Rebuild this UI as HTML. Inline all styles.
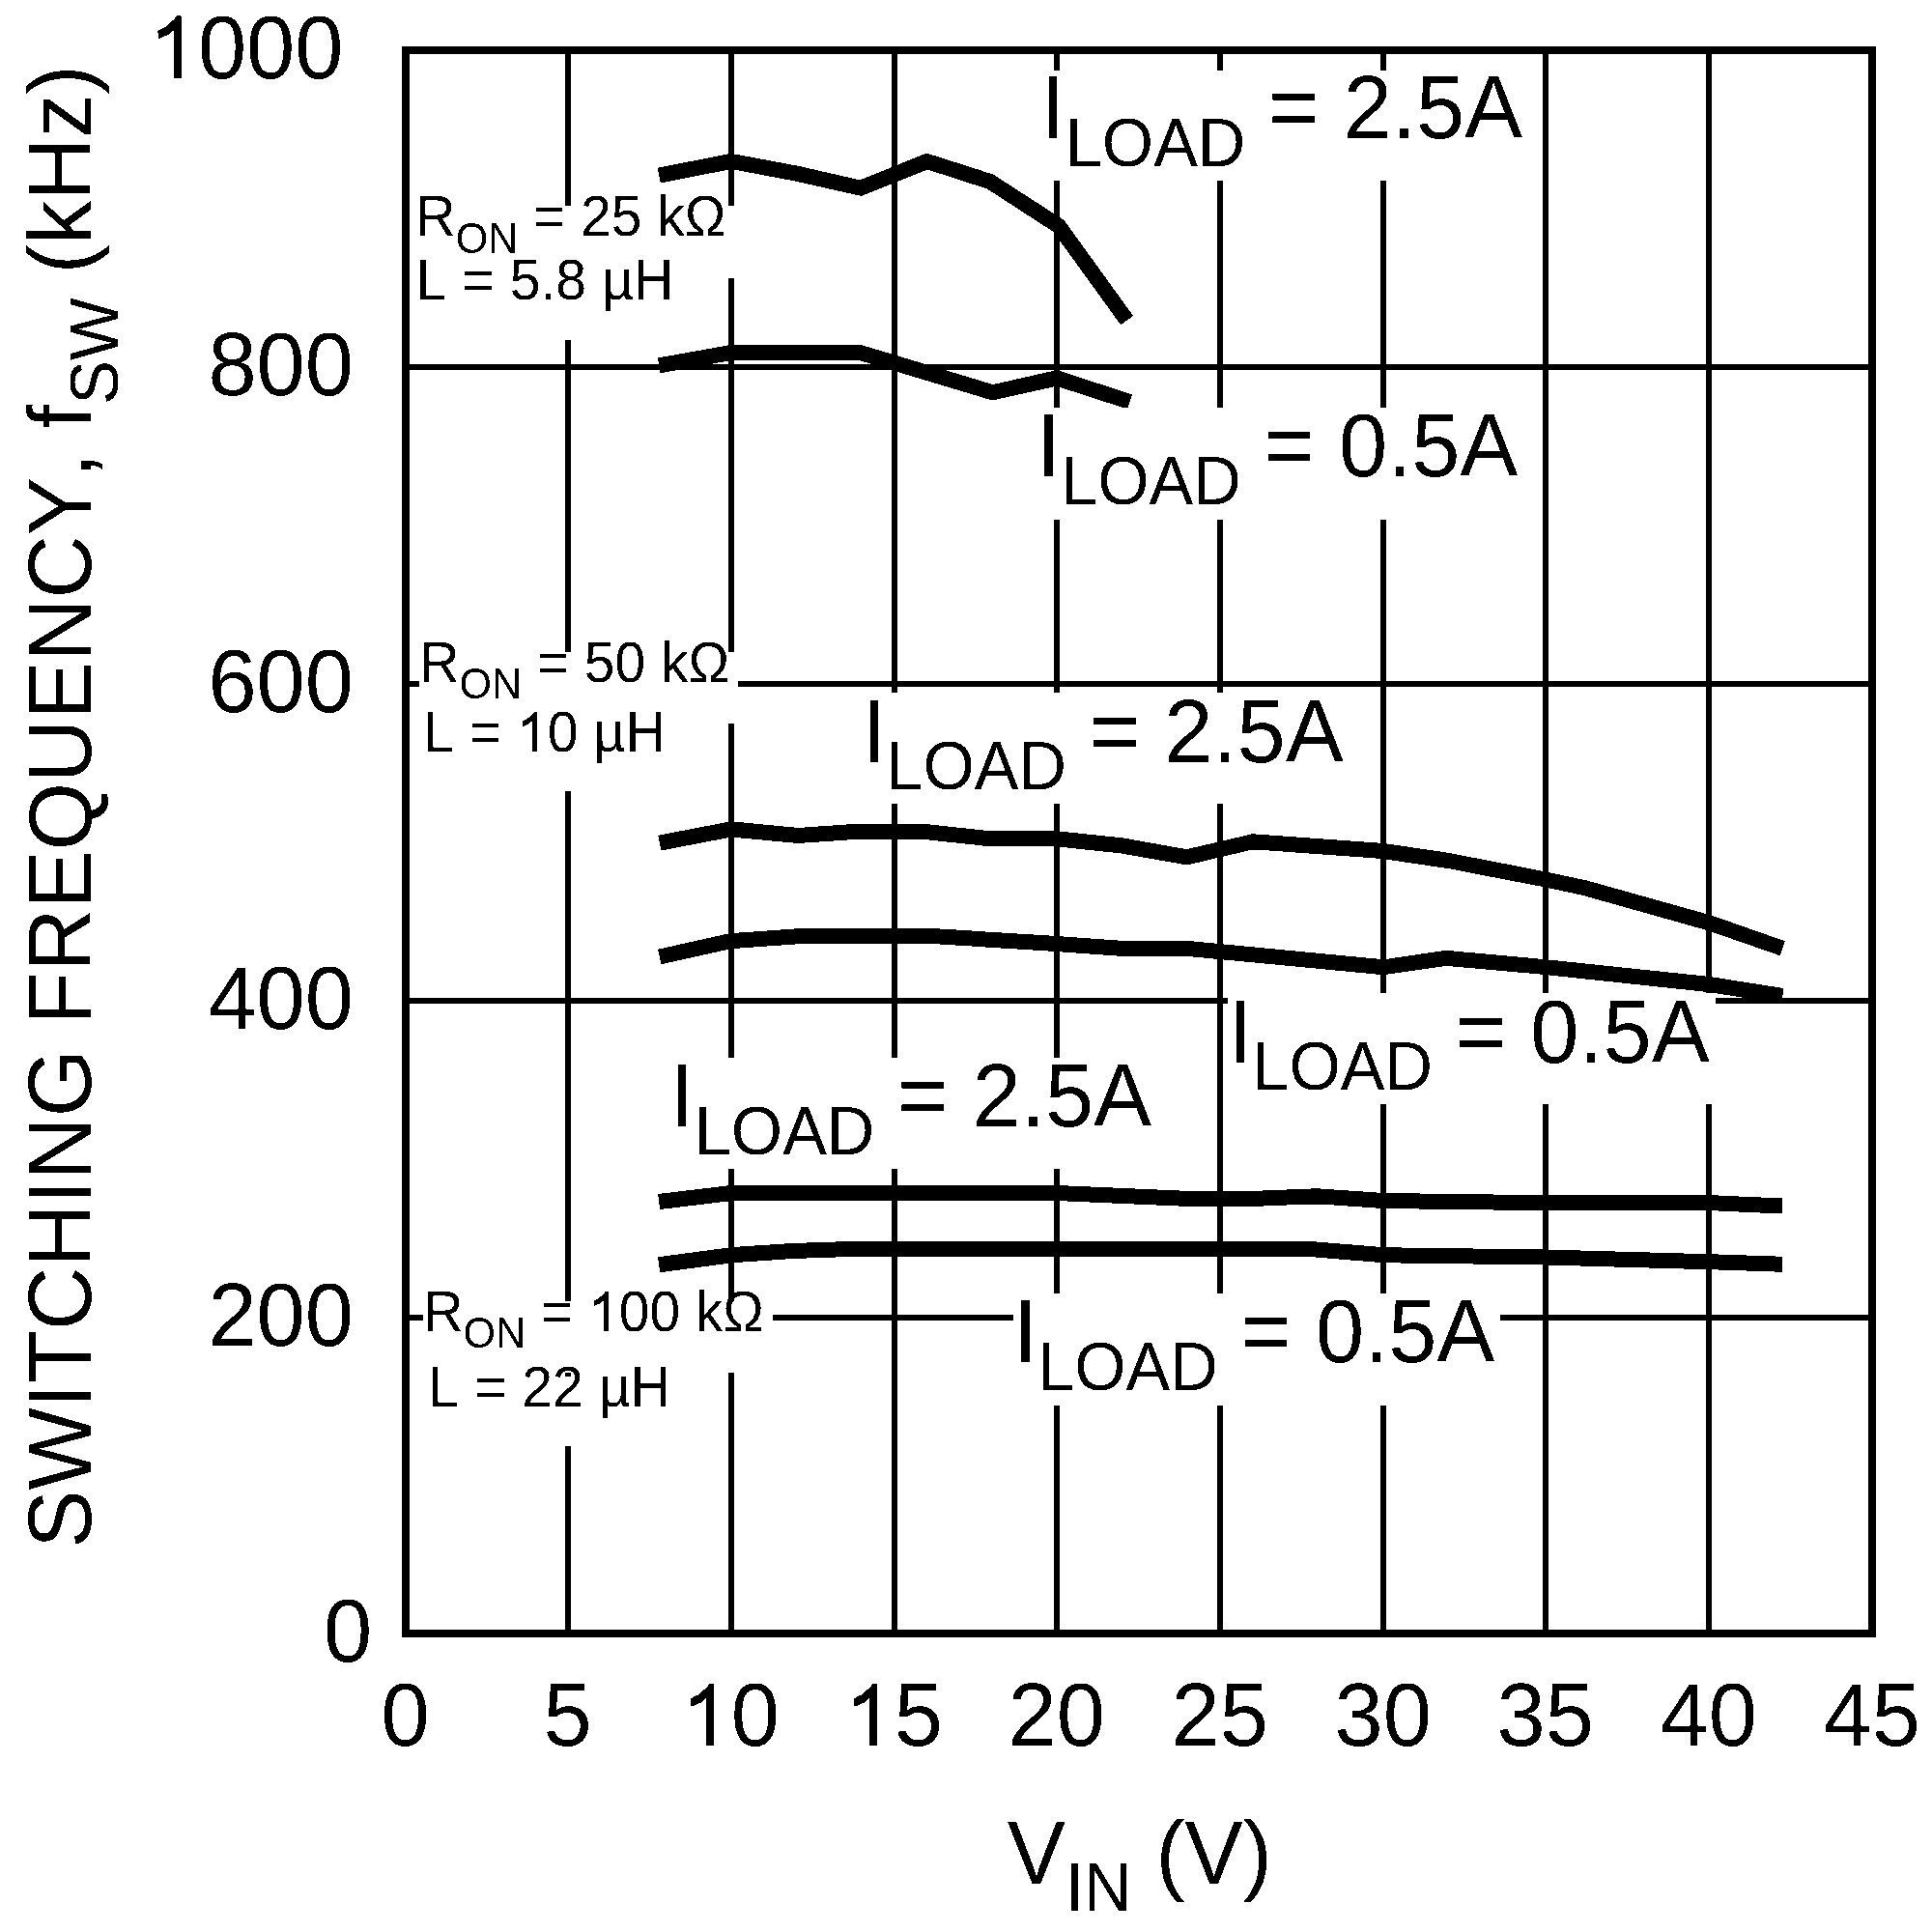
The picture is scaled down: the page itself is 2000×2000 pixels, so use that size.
<!DOCTYPE html><html><head><meta charset="utf-8"><title>Switching frequency vs VIN</title><style>
html,body{margin:0;padding:0;background:#fff;width:2000px;height:2000px;overflow:hidden}
svg{display:block}
text{font-family:"Liberation Sans",sans-serif;fill:#000;font-kerning:none}
.h{fill:none}.m{font-size:93.50px}.s{font-size:71.00px}.r{font-size:59.00px}.rs{font-size:44.60px}
.g{stroke:#000;stroke-width:6;shape-rendering:crispEdges}
.c{fill:none;stroke:#000;stroke-width:16;stroke-linejoin:miter;stroke-miterlimit:3;stroke-linecap:butt}
</style></head><body>
<svg width="2000" height="2000" viewBox="0 0 2000 2000">
<defs><filter id="bin" filterUnits="userSpaceOnUse" x="0" y="0" width="2000" height="2000" color-interpolation-filters="sRGB"><feComponentTransfer><feFuncR type="discrete" tableValues="0 1"/><feFuncG type="discrete" tableValues="0 1"/><feFuncB type="discrete" tableValues="0 1"/></feComponentTransfer></filter></defs>
<g filter="url(#bin)">
<rect x="0" y="0" width="2000" height="2000" fill="#fff"/>
<line class="g" x1="588.0" y1="52" x2="588.0" y2="1691"/>
<line class="g" x1="757.0" y1="52" x2="757.0" y2="1691"/>
<line class="g" x1="926.0" y1="52" x2="926.0" y2="1691"/>
<line class="g" x1="1094.0" y1="52" x2="1094.0" y2="1691"/>
<line class="g" x1="1263.0" y1="52" x2="1263.0" y2="1691"/>
<line class="g" x1="1432.0" y1="52" x2="1432.0" y2="1691"/>
<line class="g" x1="1600.0" y1="52" x2="1600.0" y2="1691"/>
<line class="g" x1="1769.0" y1="52" x2="1769.0" y2="1691"/>
<line class="g" x1="420" y1="380.0" x2="1938" y2="380.0"/>
<line class="g" x1="420" y1="708.0" x2="1938" y2="708.0"/>
<line class="g" x1="420" y1="1036.0" x2="1938" y2="1036.0"/>
<line class="g" x1="420" y1="1364.0" x2="1938" y2="1364.0"/>
<polyline class="c" points="682.2,181.6 757.0,167.0 827.0,180.2 891.1,194.7 959.5,167.0 1025.0,188.0 1096.0,234.0 1166.6,331.6"/>
<polyline class="c" points="682.2,378.3 757.0,364.9 890.0,364.9 1027.6,406.3 1094.0,391.4 1169.5,416.0"/>
<polyline class="c" points="682.8,872.6 757.0,858.4 826.0,865.0 884.0,861.0 953.0,860.5 1022.0,868.0 1089.0,867.8 1162.0,875.5 1228.7,887.4 1297.0,871.2 1432.0,881.0 1499.4,891.0 1600.0,910.5 1641.0,919.3 1769.0,955.2 1845.2,981.7"/>
<polyline class="c" points="682.8,990.5 757.0,974.0 826.0,969.2 965.0,969.0 1094.0,977.0 1163.0,982.0 1228.0,981.7 1432.0,1001.3 1497.0,991.8 1600.0,1001.1 1769.0,1019.0 1845.3,1031.0"/>
<polyline class="c" points="682.1,1244.0 757.0,1235.0 1094.0,1235.0 1232.0,1241.1 1295.0,1241.0 1363.0,1238.3 1432.0,1243.0 1590.0,1245.1 1770.0,1245.1 1845.0,1248.4"/>
<polyline class="c" points="682.1,1309.2 757.0,1299.2 820.0,1295.0 880.0,1293.0 1357.0,1293.1 1432.0,1299.3 1600.0,1301.6 1770.0,1306.2 1845.0,1308.7"/>
<rect x="1077.7" y="72.6" width="504.3" height="114.4" fill="#fff"/>
<rect x="1073.0" y="422.2" width="504.5" height="115.8" fill="#fff"/>
<rect x="892.3" y="717.5" width="504.5" height="114.5" fill="#fff"/>
<rect x="1271.4" y="1028.0" width="504.6" height="115.0" fill="#fff"/>
<rect x="693.7" y="1095.0" width="504.5" height="115.4" fill="#fff"/>
<rect x="1049.0" y="1338.6" width="504.0" height="116.4" fill="#fff"/>
<rect x="430.6" y="213.5" width="330.4" height="74.0" fill="#fff"/>
<rect x="430.6" y="280.0" width="277.4" height="72.4" fill="#fff"/>
<rect x="434.0" y="675.4" width="329.8" height="73.4" fill="#fff"/>
<rect x="434.0" y="747.4" width="281.0" height="71.6" fill="#fff"/>
<rect x="437.7" y="1347.4" width="362.3" height="73.6" fill="#fff"/>
<rect x="437.7" y="1425.3" width="282.3" height="71.5" fill="#fff"/>
<rect x="420" y="52" width="1518" height="1639" fill="none" stroke="#000" stroke-width="8" shape-rendering="crispEdges"/>
<text class="m" transform="translate(355.4 80.9) scale(0.9650 1)" text-anchor="end"><tspan class="h">1</tspan>000</text>
<path transform="translate(355.4 80.9) scale(0.9650 1) translate(-207.97 0.00) scale(0.04565 -0.04565)" d="M563,0L745,0L745,1409L638,1409L579,1336L497,1268L438,1218L357,1150L275,1121L198,1069L204,894L275,915L357,955L438,984L497,1041L563,1097Z"/>
<text class="m" transform="translate(365.9 408.8) scale(0.9650 1)" text-anchor="end">800</text>
<text class="m" transform="translate(365.9 737.0) scale(0.9650 1)" text-anchor="end">600</text>
<text class="m" transform="translate(365.9 1064.9) scale(0.9650 1)" text-anchor="end">400</text>
<text class="m" transform="translate(365.9 1392.9) scale(0.9650 1)" text-anchor="end">200</text>
<text class="m" transform="translate(385.2 1719.9) scale(0.9650 1)" text-anchor="end">0</text>
<text class="m" transform="translate(419.7 1807.3) scale(0.9650 1)" text-anchor="middle">0</text>
<text class="m" transform="translate(587.7 1807.3) scale(0.9650 1)" text-anchor="middle">5</text>
<text class="m" transform="translate(756.7 1807.3) scale(0.9650 1)" text-anchor="middle"><tspan class="h">1</tspan>0</text>
<path transform="translate(756.7 1807.3) scale(0.9650 1) translate(-52.00 0.00) scale(0.04565 -0.04565)" d="M563,0L745,0L745,1409L638,1409L579,1336L497,1268L438,1218L357,1150L275,1121L198,1069L204,894L275,915L357,955L438,984L497,1041L563,1097Z"/>
<text class="m" transform="translate(925.7 1807.3) scale(0.9650 1)" text-anchor="middle"><tspan class="h">1</tspan>5</text>
<path transform="translate(925.7 1807.3) scale(0.9650 1) translate(-52.00 0.00) scale(0.04565 -0.04565)" d="M563,0L745,0L745,1409L638,1409L579,1336L497,1268L438,1218L357,1150L275,1121L198,1069L204,894L275,915L357,955L438,984L497,1041L563,1097Z"/>
<text class="m" transform="translate(1093.7 1807.3) scale(0.9650 1)" text-anchor="middle">20</text>
<text class="m" transform="translate(1262.7 1807.3) scale(0.9650 1)" text-anchor="middle">25</text>
<text class="m" transform="translate(1431.7 1807.3) scale(0.9650 1)" text-anchor="middle">30</text>
<text class="m" transform="translate(1599.7 1807.3) scale(0.9650 1)" text-anchor="middle">35</text>
<text class="m" transform="translate(1768.7 1807.3) scale(0.9650 1)" text-anchor="middle">40</text>
<text class="m" transform="translate(1937.7 1807.3) scale(0.9650 1)" text-anchor="middle">45</text>
<text class="m" transform="translate(1042.8 1949.6) scale(0.9650 1)">V<tspan class="s" dy="28.5">IN</tspan><tspan dy="-28.5"> (V)</tspan></text>
<text class="m" transform="translate(93.8 1602.7) rotate(-90) scale(0.9660 1)">SWITCHING FREQUENCY, f<tspan class="s" dy="28.5">SW</tspan><tspan dy="-28.5"> (kHz)</tspan></text>
<text class="m" transform="translate(1077.7 143.3) scale(0.9650 1)">I<tspan class="s" dy="28.5">LOAD</tspan><tspan dx="-1.5" dy="-28.5"> = 2.5A</tspan></text>
<text class="m" transform="translate(1073.0 493.4) scale(0.9650 1)">I<tspan class="s" dy="28.5">LOAD</tspan><tspan dx="-1.5" dy="-28.5"> = 0.5A</tspan></text>
<text class="m" transform="translate(892.3 788.6) scale(0.9650 1)">I<tspan class="s" dy="28.5">LOAD</tspan><tspan dx="-1.5" dy="-28.5"> = 2.5A</tspan></text>
<text class="m" transform="translate(1271.4 1099.7) scale(0.9650 1)">I<tspan class="s" dy="28.5">LOAD</tspan><tspan dx="-1.5" dy="-28.5"> = 0.5A</tspan></text>
<text class="m" transform="translate(693.7 1166.4) scale(0.9650 1)">I<tspan class="s" dy="28.5">LOAD</tspan><tspan dx="-1.5" dy="-28.5"> = 2.5A</tspan></text>
<text class="m" transform="translate(1049.0 1410.0) scale(0.9650 1)">I<tspan class="s" dy="28.5">LOAD</tspan><tspan dx="-1.5" dy="-28.5"> = 0.5A</tspan></text>
<text class="r" transform="translate(430.6 244.3) scale(0.9650 1)">R<tspan class="rs" dy="17.5">ON</tspan><tspan dy="-17.5"> = 25 k&#937;</tspan></text>
<text class="r" transform="translate(430.6 310.4) scale(0.9700 1)">L = 5.8 &#181;H</text>
<text class="r" transform="translate(434.3 705.6) scale(0.9650 1)">R<tspan class="rs" dy="17.5">ON</tspan><tspan dy="-17.5"> = 50 k&#937;</tspan></text>
<text class="r" transform="translate(438.0 777.9) scale(0.9700 1)">L = <tspan class="h">1</tspan>0 &#181;H</text>
<path transform="translate(438.0 777.9) scale(0.9700 1) translate(100.04 0.00) scale(0.02881 -0.02881)" d="M563,0L745,0L745,1409L638,1409L579,1336L497,1268L438,1218L357,1150L275,1121L198,1069L204,894L275,915L357,955L438,984L497,1041L563,1097Z"/>
<text class="r" transform="translate(438.5 1377.7) scale(0.9650 1)">R<tspan class="rs" dy="17.5">ON</tspan><tspan dy="-17.5"> = <tspan class="h">1</tspan>00 k&#937;</tspan></text>
<path transform="translate(438.5 1377.7) scale(0.9650 1) translate(176.74 0.00) scale(0.02881 -0.02881)" d="M563,0L745,0L745,1409L638,1409L579,1336L497,1268L438,1218L357,1150L275,1121L198,1069L204,894L275,915L357,955L438,984L497,1041L563,1097Z"/>
<text class="r" transform="translate(443.2 1455.8) scale(0.9700 1)">L = 22 &#181;H</text>
</g>
</svg></body></html>
